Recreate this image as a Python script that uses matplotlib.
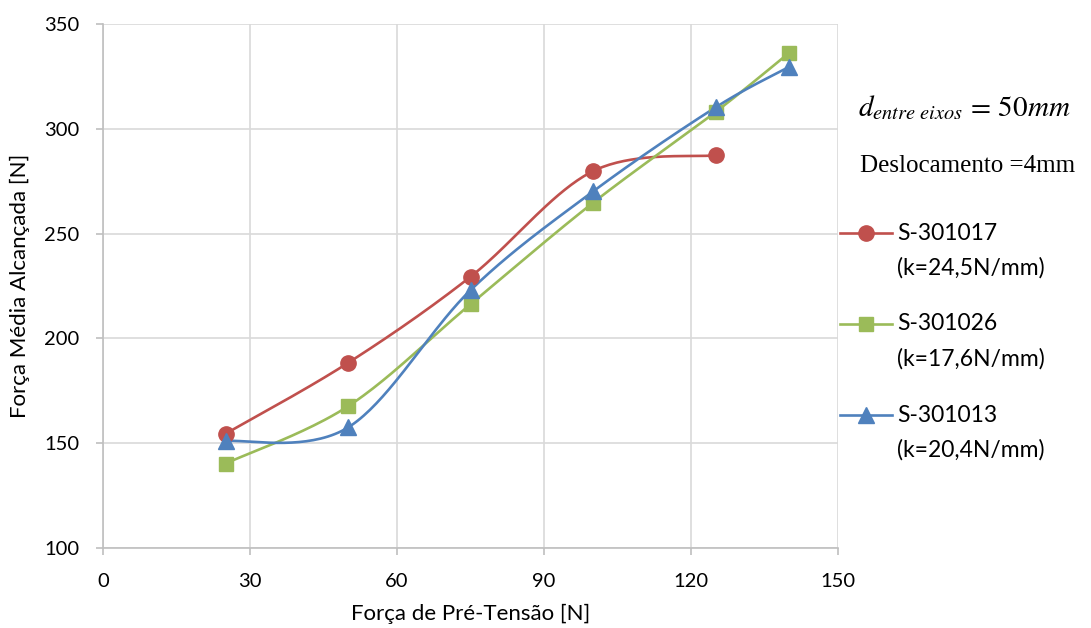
import numpy as np
import matplotlib
matplotlib.use('Agg')
import matplotlib.pyplot as plt
from matplotlib.lines import Line2D

plt.rcParams['font.family'] = ['Lato', 'DejaVu Sans']
plt.rcParams['mathtext.fontset'] = 'stix'

# Dados
pre_tensao = [25, 50, 75, 100, 125, 140]
s301017 = [154.5, 188.3, 229.4, 279.8, 287.4]
s301026 = [140.3, 167.6, 216.3, 264.7, 308.0, 336.2]
s301013 = [151.0, 157.5, 223.0, 270.1, 310.2, 329.5]

nomes = ['S-301017', 'S-301026', 'S-301013']
rigidez = ['(k=24,5N/mm)', '(k=17,6N/mm)', '(k=20,4N/mm)']
cores = ['#C0504D', '#9BBB59', '#4F81BD']
marcadores = ['o', 's', '^']
tam_marc = [11, 10, 11]


def suavizar(x, y, n=40):
    # curva suavizada tipo Excel (Bezier com pontos de controle Catmull-Rom)
    p = np.column_stack([x, y]).astype(float)
    pts = [p[0]]
    for i in range(len(p) - 1):
        p0 = p[i - 1] if i > 0 else p[i]
        p1 = p[i]
        p2 = p[i + 1]
        p3 = p[i + 2] if i + 2 < len(p) else p[i + 1]
        c1 = p1 + (p2 - p0) / 6
        c2 = p2 - (p3 - p1) / 6
        t = np.linspace(0, 1, n)[1:, None]
        seg = ((1 - t) ** 3) * p1 + 3 * ((1 - t) ** 2) * t * c1 + 3 * (1 - t) * t ** 2 * c2 + t ** 3 * p2
        pts.extend(seg)
    pts = np.array(pts)
    return pts[:, 0], pts[:, 1]


fig = plt.figure(figsize=(10.91, 6.28), dpi=100)
ax = fig.add_axes([103 / 1091, 1 - 548 / 628, 735 / 1091, 524 / 628])

series = [s301017, s301026, s301013]
for ys, cor, mk, ms in zip(series, cores, marcadores, tam_marc):
    xs = pre_tensao[:len(ys)]
    sx, sy = suavizar(xs, ys)
    ax.plot(sx, sy, color=cor, linewidth=1.9, zorder=3, clip_on=False)
    ax.plot(xs, ys, linestyle='none', marker=mk, markersize=ms, color=cor, zorder=4, clip_on=False)

ax.set_xlim(0, 150)
ax.set_ylim(100, 350)
ax.set_xticks(range(0, 151, 30))
ax.set_yticks(range(100, 351, 50))
ax.grid(True, color='#d9d9d9', linewidth=1.2)
ax.set_axisbelow(True)
for s in ['top', 'right']:
    ax.spines[s].set_visible(False)
for s in ['left', 'bottom']:
    ax.spines[s].set_color('#bfbfbf')
    ax.spines[s].set_linewidth(1.2)
ax.tick_params(axis='both', colors='#bfbfbf', length=5, width=1.2, labelsize=14.5, labelcolor='black')
ax.tick_params(axis='y', pad=12)
ax.tick_params(axis='x', pad=13)

ax.set_xlabel('Força de Pré-Tensão [N]', fontsize=16, labelpad=10)
ax.set_ylabel('Força Média Alcançada [N]', fontsize=16, labelpad=10)

# Anotações
fig.text(858 / 1091, 1 - 108 / 628, r'$d_{entre\ eixos}\,=\,50mm$', fontsize=21, va='center', ha='left')
fig.text(860 / 1091, 1 - 166 / 628, 'Deslocamento =4mm', fontsize=18, va='center', ha='left',
         family='Liberation Serif')

# Legenda
leg_y = [233, 324, 415]
for nome, k, cor, mk, ms, yy in zip(nomes, rigidez, cores, marcadores, tam_marc, leg_y):
    yf = 1 - yy / 628
    fig.add_artist(Line2D([840 / 1091, 866 / 1091, 892 / 1091], [yf, yf, yf], color=cor, linewidth=1.9,
                          marker=mk, markersize=ms, markevery=[1], transform=fig.transFigure))
    fig.text(897 / 1091, yf, nome, fontsize=16.5, va='center', ha='left')
    fig.text(897 / 1091, 1 - (yy + 35) / 628, k, fontsize=16.5, va='center', ha='left')

fig.savefig('out.png', dpi=100)
